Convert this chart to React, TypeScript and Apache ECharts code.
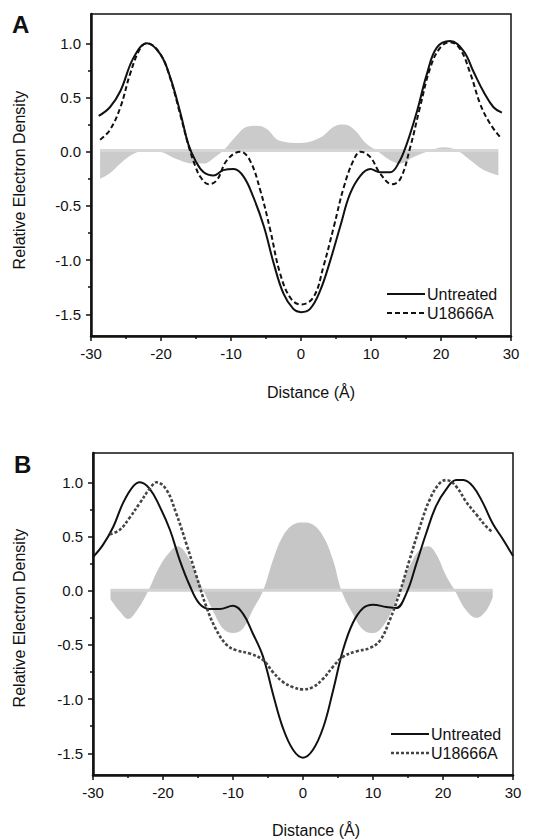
import { useEffect, useRef } from "react";
import * as echarts from "echarts";

const FONT = "'Liberation Sans', Arial, Helvetica, sans-serif";

// Panel A
const untreatedA: number[][] = [
  [-28.9, 0.33], [-27.3, 0.41], [-25.8, 0.56], [-23.9, 0.87], [-22.0, 1.0], [-20.1, 0.9],
  [-18.7, 0.69], [-17.2, 0.35], [-16.1, 0.07], [-15.1, -0.08], [-13.9, -0.19], [-12.5, -0.22],
  [-11.1, -0.17], [-9.6, -0.16], [-8.2, -0.23], [-6.8, -0.42], [-5.3, -0.69], [-3.9, -1.03],
  [-2.5, -1.31], [-1.1, -1.45], [0, -1.48], [1.3, -1.45], [2.75, -1.28], [4.2, -1.0],
  [5.6, -0.69], [7.0, -0.39], [8.5, -0.22], [9.9, -0.16], [11.3, -0.19], [12.75, -0.19],
  [13.9, -0.11], [15.1, 0.07], [16.6, 0.38], [18.0, 0.72], [19.4, 0.96], [21.3, 1.02],
  [23.2, 0.93], [24.7, 0.73], [26.1, 0.55], [27.5, 0.41], [28.7, 0.36],
];
const u18666aA: number[][] = [
  [-28.7, 0.11], [-27.3, 0.2], [-25.8, 0.41], [-24.4, 0.72], [-23.0, 0.95], [-22.0, 1.0],
  [-20.1, 0.9], [-18.7, 0.68], [-17.2, 0.33], [-16.0, 0.04], [-15.0, -0.15], [-14.4, -0.23],
  [-13.2, -0.3], [-12.0, -0.26], [-10.6, -0.08], [-8.7, 0.0], [-7.3, -0.08], [-5.8, -0.36],
  [-4.4, -0.72], [-3.0, -1.12], [-1.5, -1.35], [0, -1.41], [1.8, -1.34], [3.2, -1.06],
  [4.7, -0.69], [6.1, -0.33], [7.5, -0.08], [8.5, 0.0], [9.9, -0.05], [11.3, -0.2],
  [13.0, -0.3], [14.2, -0.25], [15.6, 0.04], [17.0, 0.41], [18.5, 0.78], [19.9, 0.96],
  [21.3, 1.01], [22.7, 0.95], [24.2, 0.72], [25.6, 0.44], [27.0, 0.26], [28.5, 0.13],
];
const differenceA: number[][] = [
  [-28.7, -0.25], [-27.3, -0.2], [-25.8, -0.11], [-23.9, -0.02], [-22.0, 0.01], [-20.1, 0.0],
  [-17.7, -0.07], [-15.3, -0.11], [-13.9, -0.11], [-12.5, -0.06], [-11.1, 0.01], [-9.6, 0.12],
  [-7.7, 0.23], [-6.3, 0.24], [-4.9, 0.21], [-3.0, 0.1], [0, 0.08], [2.75, 0.13], [4.7, 0.23],
  [6.1, 0.25], [7.5, 0.21], [9.4, 0.07], [10.8, 0.01], [12.75, -0.08], [14.2, -0.11],
  [16.1, -0.05], [18.5, 0.01], [20.4, 0.04], [22.3, 0.01], [24.2, -0.08], [26.1, -0.17],
  [28.2, -0.22],
];
const baselineA: number[][] = [[-28.7, 0.01], [28.2, 0.01]];

// Panel B
const untreatedB: number[][] = [
  [-30, 0.31], [-28.6, 0.42], [-27.1, 0.59], [-25.7, 0.81], [-24.3, 0.96], [-23.3, 1.0],
  [-21.9, 0.94], [-20.5, 0.78], [-19.0, 0.56], [-17.6, 0.28], [-16.2, 0.05], [-14.8, -0.12],
  [-13.3, -0.17], [-11.9, -0.17], [-10.0, -0.14], [-8.6, -0.21], [-7.2, -0.39], [-5.7, -0.61],
  [-4.3, -0.95], [-2.9, -1.26], [-1.4, -1.47], [0, -1.54], [1.4, -1.47], [2.9, -1.26],
  [4.3, -0.92], [5.7, -0.55], [7.1, -0.3], [8.6, -0.16], [10.0, -0.13], [11.9, -0.15],
  [13.3, -0.16], [14.8, -0.02], [16.2, 0.25], [17.6, 0.53], [19.0, 0.78], [20.5, 0.94],
  [21.9, 1.02], [22.9, 1.02], [24.3, 0.96], [25.7, 0.81], [27.1, 0.62], [28.6, 0.47], [30, 0.32],
];
const u18666aB: number[][] = [
  [-27.6, 0.52], [-26.2, 0.56], [-24.8, 0.67], [-23.3, 0.81], [-21.9, 0.94], [-20.9, 1.0],
  [-19.5, 0.93], [-18.1, 0.71], [-16.7, 0.44], [-15.2, 0.13], [-13.8, -0.15], [-12.4, -0.36],
  [-10.9, -0.5], [-9.5, -0.55], [-7.6, -0.58], [-5.7, -0.64], [-4.3, -0.75], [-2.9, -0.84],
  [-1.4, -0.89], [0, -0.91], [1.4, -0.89], [2.9, -0.81], [4.3, -0.7], [5.7, -0.61],
  [7.6, -0.56], [9.5, -0.53], [11.0, -0.46], [12.4, -0.27], [13.8, -0.02], [15.2, 0.28],
  [16.7, 0.59], [18.1, 0.84], [19.5, 0.99], [20.5, 1.02], [21.9, 0.96], [23.3, 0.82],
  [24.8, 0.7], [26.2, 0.59], [27.1, 0.54],
];
const differenceB: number[][] = [
  [-27.5, -0.08], [-26.2, -0.19], [-25.0, -0.26], [-23.8, -0.19], [-22.1, 0.0], [-20.5, 0.22],
  [-19.0, 0.36], [-17.9, 0.41], [-16.7, 0.34], [-15.2, 0.13], [-14.2, 0.0], [-12.9, -0.18],
  [-11.4, -0.35], [-10.0, -0.39], [-8.6, -0.35], [-7.2, -0.18], [-5.7, 0.0], [-4.3, 0.28],
  [-2.9, 0.5], [-1.4, 0.61], [0, 0.63], [1.4, 0.61], [2.9, 0.5], [4.3, 0.28], [5.5, 0.0],
  [7.1, -0.21], [8.6, -0.36], [10.0, -0.39], [11.4, -0.33], [12.9, -0.15], [13.8, 0.0],
  [15.2, 0.22], [16.7, 0.38], [17.9, 0.41], [19.0, 0.34], [20.5, 0.13], [21.7, 0.0],
  [23.3, -0.18], [24.8, -0.25], [26.2, -0.18], [27.1, -0.06],
];
const baselineB: number[][] = [[-27.5, 0.005], [27.1, 0.005]];

const yLabelValues = [-1.5, -1.0, -0.5, 0.0, 0.5, 1.0];
const yMinorValues = [-1.25, -0.75, -0.25, 0.25, 0.75];
const seriesNames = ["Untreated", "U18666A"];
const Y_MIN = -1.7;
const Y_MAX = 1.27;

export default function App() {
  const ref = useRef<HTMLDivElement>(null);
  useEffect(() => {
    if (!ref.current) return;
    const chart = echarts.init(ref.current, undefined, { renderer: "svg" });

    const mkX = (gi: number) => ({
      type: "value",
      gridIndex: gi,
      min: -30,
      max: 30,
      interval: 10,
      axisLine: { show: true, onZero: false, lineStyle: { color: "#111", width: 2.5 } },
      axisTick: { show: true, length: 5, lineStyle: { color: "#111", width: 1.5 } },
      minorTick: { show: true, splitNumber: 2, length: 3, lineStyle: { color: "#111", width: 1.5 } },
      axisLabel: { fontSize: 15, color: "#111", margin: 10, fontFamily: FONT },
      splitLine: { show: false },
    });
    const mkY = (gi: number) => ({
      type: "value",
      gridIndex: gi,
      min: Y_MIN,
      max: Y_MAX,
      position: "left",
      axisLine: { show: true, onZero: false, lineStyle: { color: "#111", width: 2.5 } },
      axisTick: { show: true, length: 5, customValues: yLabelValues, lineStyle: { color: "#111", width: 1.5 } },
      axisLabel: {
        customValues: yLabelValues,
        fontSize: 15,
        color: "#111",
        margin: 10,
        fontFamily: FONT,
        formatter: (v: number) => v.toFixed(1),
      },
      splitLine: { show: false },
    });
    const mkYMinor = (gi: number) => ({
      type: "value",
      gridIndex: gi,
      min: Y_MIN,
      max: Y_MAX,
      position: "left",
      axisLine: { show: false, onZero: false },
      axisTick: { show: true, length: 3, customValues: yMinorValues, lineStyle: { color: "#111", width: 1.5 } },
      axisLabel: { show: false },
      splitLine: { show: false },
    });

    const area = (data: number[][], xi: number, yi: number, color: string) => ({
      type: "line",
      xAxisIndex: xi,
      yAxisIndex: yi,
      data,
      smooth: 0.4,
      symbol: "none",
      lineStyle: { width: 0 },
      areaStyle: { color, opacity: 1 },
      z: 1,
      silent: true,
    });
    const base = (data: number[][], xi: number, yi: number, color: string) => ({
      type: "line",
      xAxisIndex: xi,
      yAxisIndex: yi,
      data,
      symbol: "none",
      lineStyle: { color, width: 3 },
      z: 1,
      silent: true,
    });
    const curve = (name: string, data: number[][], xi: number, yi: number, style: any) => ({
      type: "line",
      name,
      xAxisIndex: xi,
      yAxisIndex: yi,
      data,
      smooth: 0.4,
      symbol: "none",
      lineStyle: style,
      z: 3,
    });

    const solidA = { color: "#111", width: 2 };
    const dashA = { color: "#111", width: 2, type: [5, 3] };
    const solidB = { color: "#111", width: 2 };
    const dashB = { color: "#444", width: 2.6, type: [3, 2] };

    const legendItem = (x: number, y: number, text: string, style: any) => [
      { type: "line", shape: { x1: x, y1: y, x2: x + 38, y2: y }, style: { stroke: style.color, lineWidth: style.width, lineDash: style.type || null } },
      { type: "text", x: x + 40, y, style: { text, fontSize: 16, fontFamily: FONT, fill: "#111", align: "left", verticalAlign: "middle" } },
    ];

    chart.setOption({
      animation: false,
      backgroundColor: "#fff",
      grid: [
        { left: 91, top: 14, width: 420, height: 322, show: true, borderColor: "#111", borderWidth: 1.5, backgroundColor: "transparent" },
        { left: 93, top: 453, width: 420, height: 322, show: true, borderColor: "#111", borderWidth: 1.5, backgroundColor: "transparent" },
      ],
      xAxis: [mkX(0), mkX(1)],
      yAxis: [mkY(0), mkYMinor(0), mkY(1), mkYMinor(1)],
      series: [
        area(differenceA, 0, 0, "#cbcbcb"),
        base(baselineA, 0, 0, "#d6d6d6"),
        curve(seriesNames[0], untreatedA, 0, 0, solidA),
        curve(seriesNames[1], u18666aA, 0, 0, dashA),
        area(differenceB, 1, 2, "#c6c6c6"),
        base(baselineB, 1, 2, "#d2d2d2"),
        curve(seriesNames[0], untreatedB, 1, 2, solidB),
        curve(seriesNames[1], u18666aB, 1, 2, dashB),
      ],
      graphic: [
        { type: "text", x: 12, y: 12, style: { text: "A", fontSize: 24, fontWeight: "bold", fontFamily: FONT, fill: "#111" } },
        { type: "text", x: 14, y: 452, style: { text: "B", fontSize: 24, fontWeight: "bold", fontFamily: FONT, fill: "#111" } },
        { type: "text", x: 19, y: 180, rotation: Math.PI / 2, style: { text: "Relative Electron Density", fontSize: 16, fontFamily: FONT, fill: "#111", align: "center", verticalAlign: "middle" } },
        { type: "text", x: 19, y: 618, rotation: Math.PI / 2, style: { text: "Relative Electron Density", fontSize: 16, fontFamily: FONT, fill: "#111", align: "center", verticalAlign: "middle" } },
        { type: "text", x: 311, y: 392, style: { text: "Distance (Å)", fontSize: 16, fontFamily: FONT, fill: "#111", align: "center", verticalAlign: "middle" } },
        { type: "text", x: 316, y: 830, style: { text: "Distance (Å)", fontSize: 16, fontFamily: FONT, fill: "#111", align: "center", verticalAlign: "middle" } },
        ...legendItem(387, 294, seriesNames[0], solidA),
        ...legendItem(387, 313, seriesNames[1], dashA),
        ...legendItem(391, 734, seriesNames[0], solidB),
        ...legendItem(391, 753, seriesNames[1], dashB),
      ],
    });
    return () => chart.dispose();
  }, []);
  return <div ref={ref} style={{ position: "fixed", left: 0, top: 0, width: 550, height: 839 }} />;
}
